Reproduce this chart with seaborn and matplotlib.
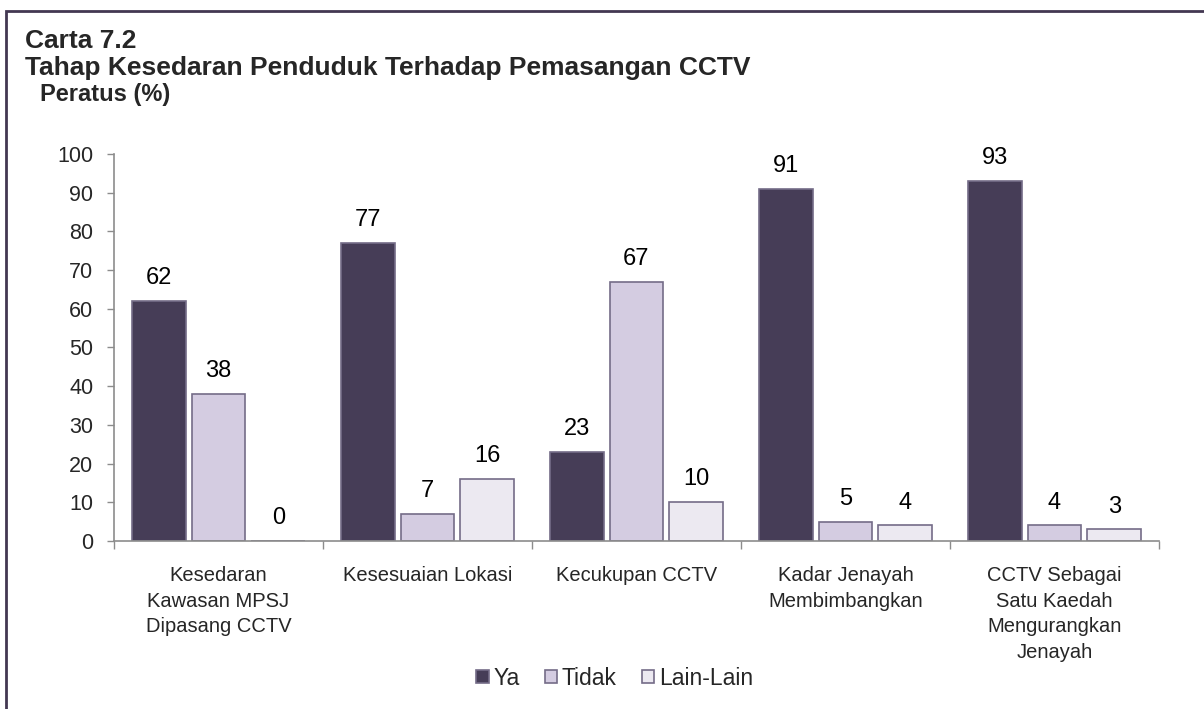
import matplotlib
matplotlib.use("Agg")
import matplotlib.pyplot as plt
from matplotlib.patches import Rectangle
import seaborn as sns
import pandas as pd

sns.set_theme(style="white")
plt.rcParams["font.family"] = ["Liberation Sans", "DejaVu Sans"]

kategori = [
    "Kesedaran\nKawasan MPSJ\nDipasang CCTV",
    "Kesesuaian Lokasi",
    "Kecukupan CCTV",
    "Kadar Jenayah\nMembimbangkan",
    "CCTV Sebagai\nSatu Kaedah\nMengurangkan\nJenayah",
]
ya = [62, 77, 23, 91, 93]
tidak = [38, 7, 67, 5, 4]
lain_lain = [0, 16, 10, 4, 3]
siri = ["Ya", "Tidak", "Lain-Lain"]
warna = ["#45385c", "#d3c9e4", "#ebe8f2"]

df = pd.DataFrame({
    "kategori": kategori * 3,
    "jawapan": ["Ya"] * 5 + ["Tidak"] * 5 + ["Lain-Lain"] * 5,
    "nilai": ya + tidak + lain_lain,
})

fig = plt.figure(figsize=(12.04, 7.09), dpi=100)
ax = fig.add_axes([0.0947, 0.237, 0.8679, 0.5458])

sns.barplot(data=df, x="kategori", y="nilai", hue="jawapan", hue_order=siri,
            order=kategori, palette=warna, width=0.86, gap=0.1,
            edgecolor="#746c88", linewidth=1.2, ax=ax)

for c in ax.containers:
    ax.bar_label(c, padding=8.5, fontsize=17, color="black")

handles, labels = ax.get_legend_handles_labels()
ax.get_legend().remove()

ax.set_ylim(0, 100)
ax.set_xlim(-0.5, 4.5)
ax.set_yticks(range(0, 101, 10))
ax.set_xlabel("")
ax.set_ylabel("")
ax.set_xticks(range(5))
ax.set_xticklabels(kategori, fontsize=14.5, linespacing=1.45)
ax.set_xticks([-0.5, 0.5, 1.5, 2.5, 3.5, 4.5], minor=True)
ax.tick_params(axis="x", which="major", length=0, pad=18)
ax.tick_params(axis="x", which="minor", length=6, width=1, color="#8c8c8c",
               direction="out", bottom=True)
ax.tick_params(axis="y", labelsize=15.5, length=5, width=1, color="#8c8c8c",
               direction="out", left=True, pad=10)
for s in ["top", "right"]:
    ax.spines[s].set_visible(False)
for s in ["left", "bottom"]:
    ax.spines[s].set_color("#8c8c8c")
    ax.spines[s].set_linewidth(1.2)

fig.text(0.021, 0.932, "Carta 7.2", fontsize=19, fontweight="bold", va="baseline")
fig.text(0.021, 0.894, "Tahap Kesedaran Penduduk Terhadap Pemasangan CCTV",
         fontsize=19, fontweight="bold", va="baseline")
fig.text(0.033, 0.858, "Peratus (%)", fontsize=17, fontweight="bold", va="baseline")

fig.legend(handles, labels, loc="center", bbox_to_anchor=(0.5104, 0.0437), ncol=3,
           frameon=False, fontsize=16.5, handlelength=0.55, handleheight=0.55,
           handletextpad=0.2, columnspacing=1.1)

fig.patches.append(Rectangle((0.005, -0.05), 1.1, 1.034,
                             transform=fig.transFigure, fill=False,
                             edgecolor="#433852", linewidth=2))

plt.savefig("out.png", dpi=100)
plt.close()
